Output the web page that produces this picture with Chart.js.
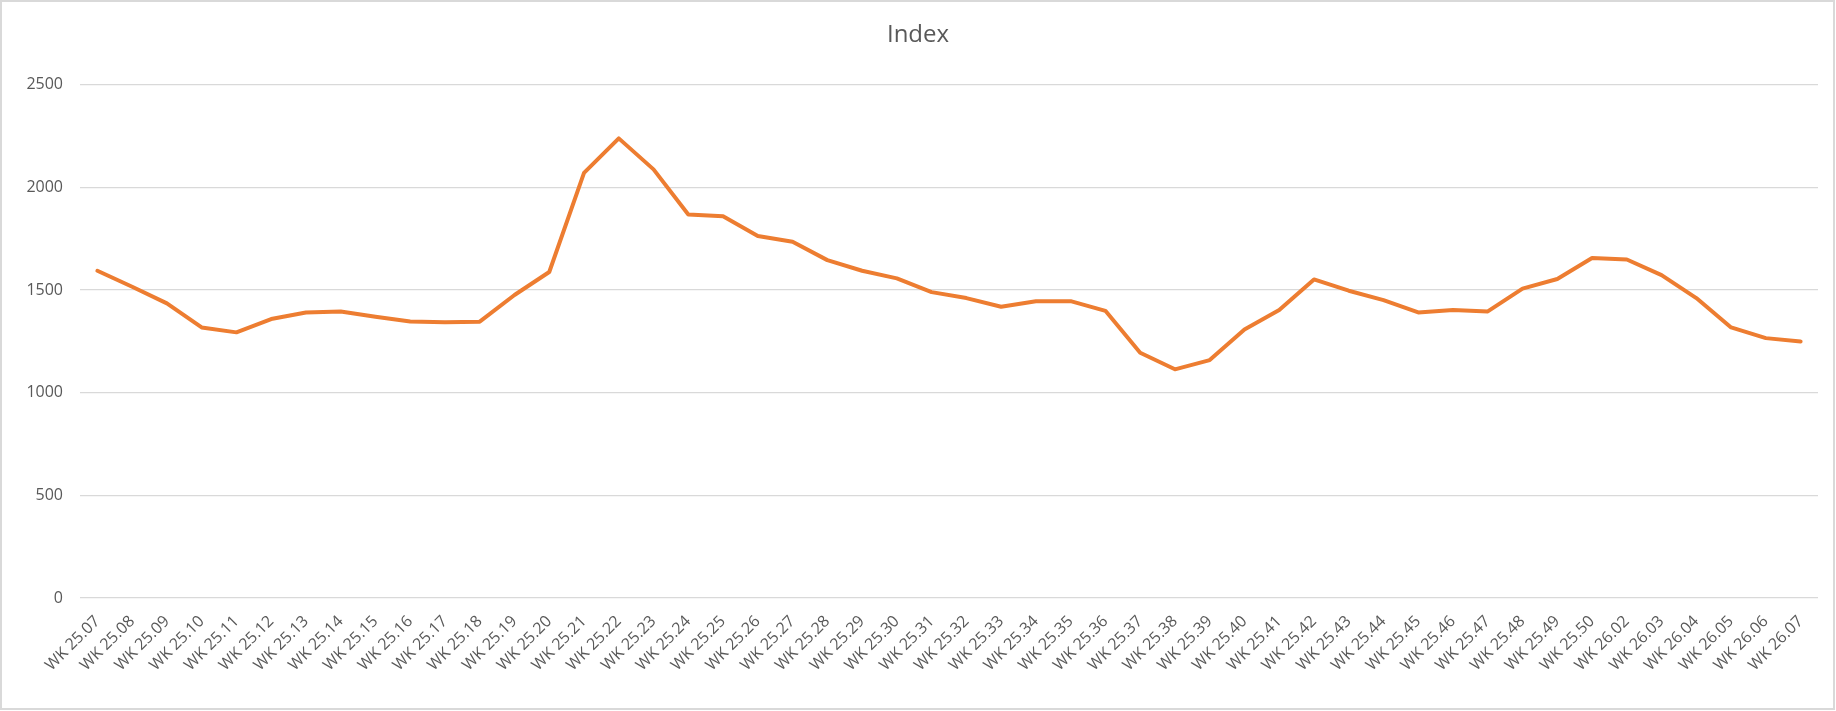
<!DOCTYPE html>
<html>
<head>
<meta charset="utf-8">
<title>Index</title>
<script src="https://cdn.jsdelivr.net/npm/chart.js@4/dist/chart.umd.min.js"></script>
<style>
    body { margin: 0; background: #ffffff; }
    canvas { display: block; }
</style>
</head>
<body>
<canvas id="indexChart" width="1836" height="711"></canvas>
<script>
// semaines (pas de 25.51, 25.52, 26.01 dans la source)
const weeks = [
    'WK 25.07', 'WK 25.08', 'WK 25.09', 'WK 25.10', 'WK 25.11', 'WK 25.12', 'WK 25.13', 'WK 25.14',
    'WK 25.15', 'WK 25.16', 'WK 25.17', 'WK 25.18', 'WK 25.19', 'WK 25.20', 'WK 25.21', 'WK 25.22',
    'WK 25.23', 'WK 25.24', 'WK 25.25', 'WK 25.26', 'WK 25.27', 'WK 25.28', 'WK 25.29', 'WK 25.30',
    'WK 25.31', 'WK 25.32', 'WK 25.33', 'WK 25.34', 'WK 25.35', 'WK 25.36', 'WK 25.37', 'WK 25.38',
    'WK 25.39', 'WK 25.40', 'WK 25.41', 'WK 25.42', 'WK 25.43', 'WK 25.44', 'WK 25.45', 'WK 25.46',
    'WK 25.47', 'WK 25.48', 'WK 25.49', 'WK 25.50', 'WK 26.02', 'WK 26.03', 'WK 26.04', 'WK 26.05',
    'WK 26.06', 'WK 26.07'
];

const indexValues = [
    1594, 1516, 1435, 1318, 1294, 1359, 1391, 1396,
    1370, 1347, 1343, 1346, 1476, 1588, 2071, 2239,
    2088, 1868, 1860, 1763, 1735, 1646, 1594, 1557,
    1490, 1461, 1419, 1446, 1446, 1399, 1195, 1114,
    1159, 1308, 1403, 1552, 1497, 1451, 1391, 1403,
    1396, 1507, 1554, 1656, 1649, 1573, 1461, 1318,
    1266, 1249
];

const yMin = 0;
const yMax = 2500;
const yStep = 500;

const textColor = '#595959';
const gridColor = '#d9d9d9';
const lineColor = '#ed7d31';

// cadre gris autour du graphique, fond blanc
const chartFrame = {
    id: 'chartFrame',
    beforeDraw(chart) {
        const ctx = chart.ctx;
        ctx.save();
        ctx.fillStyle = '#ffffff';
        ctx.fillRect(0, 0, chart.width, chart.height);
        ctx.restore();
    },
    afterDraw(chart) {
        const ctx = chart.ctx;
        ctx.save();
        ctx.strokeStyle = gridColor;
        ctx.lineWidth = 2;
        ctx.strokeRect(1, 1, chart.width - 3, chart.height - 3);
        ctx.restore();
    }
};

const ctx = document.getElementById('indexChart').getContext('2d');
new Chart(ctx, {
    type: 'line',
    data: {
        labels: weeks,
        datasets: [{
            label: 'Index',
            data: indexValues,
            borderColor: lineColor,
            backgroundColor: lineColor,
            borderWidth: 4,
            borderCapStyle: 'round',
            borderJoinStyle: 'round',
            pointRadius: 0,
            pointHoverRadius: 0,
            tension: 0,
            fill: false
        }]
    },
    options: {
        responsive: false,
        animation: false,
        devicePixelRatio: 1,
        layout: {
            padding: { left: 18, right: 18, top: 0, bottom: 0 }
        },
        plugins: {
            legend: { display: false },
            tooltip: { enabled: false },
            title: {
                display: true,
                text: 'Index',
                color: textColor,
                font: { family: '"Open Sans", sans-serif', size: 24, weight: 'normal', lineHeight: 1.2 },
                padding: { top: 21, bottom: 35 }
            }
        },
        scales: {
            x: {
                offset: true,
                grid: { display: false, drawTicks: false },
                border: { display: false },
                ticks: {
                    color: textColor,
                    font: { family: '"Open Sans", sans-serif', size: 16 },
                    autoSkip: false,
                    minRotation: 45,
                    maxRotation: 45,
                    padding: 14
                },
                afterFit(scale) {
                    scale.height = 113;
                }
            },
            y: {
                min: yMin,
                max: yMax,
                grid: { color: gridColor, lineWidth: 1.3, drawTicks: false },
                border: { display: false },
                ticks: {
                    stepSize: yStep,
                    color: textColor,
                    font: { family: '"Open Sans", sans-serif', size: 16 },
                    padding: 17,
                    callback: function(value) {
                        return String(value);
                    }
                },
                afterFit(scale) {
                    scale.width = 62;
                }
            }
        }
    },
    plugins: [chartFrame]
});
</script>
</body>
</html>
